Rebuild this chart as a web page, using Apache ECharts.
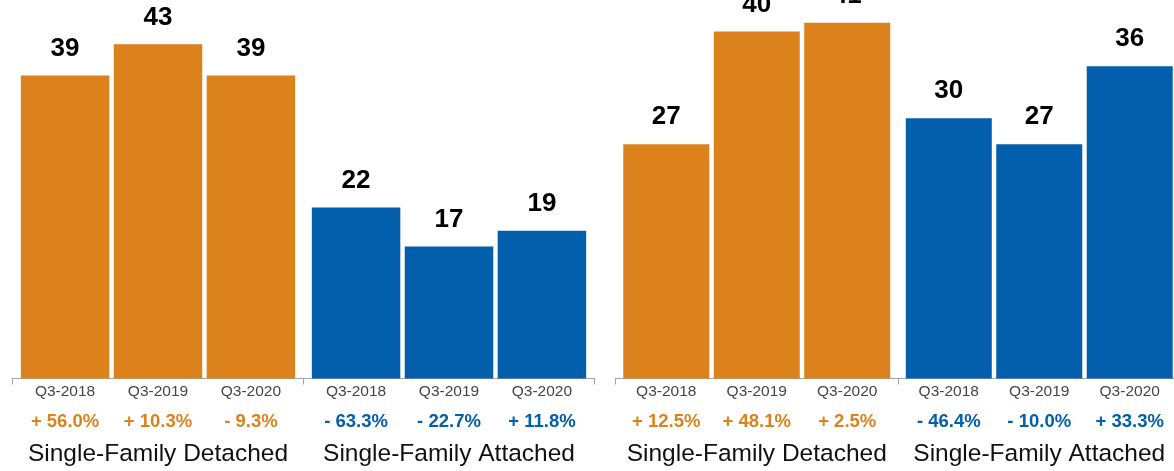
<!DOCTYPE html>
<html>
<head>
<meta charset="utf-8">
<script src="https://cdn.jsdelivr.net/npm/echarts@6/dist/echarts.min.js"></script>
<style>
  html, body { margin: 0; padding: 0; background: #ffffff; }
  #chart { width: 1174px; height: 471px; }
</style>
</head>
<body>
<div id="chart"></div>
<script>
// Categories and quarter labels
const groups = ['Single-Family Detached', 'Single-Family Attached'];
const quarters = ['Q3-2018', 'Q3-2019', 'Q3-2020'];

// First panel values and year-over-year change
const leftDetached = [39, 43, 39];
const leftAttached = [22, 17, 19];
const leftDetachedChange = ['+ 56.0%', '+ 10.3%', '- 9.3%'];
const leftAttachedChange = ['- 63.3%', '- 22.7%', '+ 11.8%'];

// Second panel values and year-over-year change
const rightDetached = [27, 40, 41];
const rightAttached = [30, 27, 36];
const rightDetachedChange = ['+ 12.5%', '+ 48.1%', '+ 2.5%'];
const rightAttachedChange = ['- 46.4%', '- 10.0%', '+ 33.3%'];

const ORANGE = '#db821c';
const BLUE = '#035eab';
const FONT = 'Liberation Sans, Arial, Helvetica, sans-serif';
const groupColors = [ORANGE, BLUE];

const panels = [
  { left: 12.5, width: 582, max: 48, barWidth: 88.5, barGap: '5%',
    detached: leftDetached, attached: leftAttached,
    detChange: leftDetachedChange, attChange: leftAttachedChange },
  { left: 615.5, width: 565, max: 43, barWidth: 86, barGap: '5.2%',
    detached: rightDetached, attached: rightAttached,
    detChange: rightDetachedChange, attChange: rightAttachedChange }
];

const grid = [], xAxis = [], yAxis = [], series = [];

panels.forEach((p, pi) => {
  grid.push({
    left: p.left, width: p.width, top: 5.5, height: 373,
    containLabel: false, outerBoundsMode: 'none'
  });
  // visible category axis with group names
  xAxis.push({
    type: 'category', gridIndex: pi, data: groups,
    axisLine: { show: true, lineStyle: { color: '#a3a3a3', width: 1 } },
    axisTick: { show: true, length: 6, lineStyle: { color: '#a3a3a3' } },
    axisLabel: {
      interval: 0, hideOverlap: false,
      color: '#111', fontSize: 24.5, fontFamily: FONT, margin: 63, lineHeight: 24.5
    }
  });
  // hidden twin axis carrying the quarter / change labels below the bars
  xAxis.push({
    type: 'category', gridIndex: pi, data: groups, show: false
  });
  yAxis.push({ type: 'value', gridIndex: pi, min: 0, max: p.max, show: false, splitLine: { show: false } });

  const visAxis = pi * 2, twinAxis = pi * 2 + 1;
  quarters.forEach((q, qi) => {
    const vals = [p.detached[qi], p.attached[qi]];
    const changes = [p.detChange[qi], p.attChange[qi]];
    series.push({
      type: 'bar', xAxisIndex: visAxis, yAxisIndex: pi,
      barWidth: p.barWidth, barGap: p.barGap,
      data: vals.map((v, gi) => ({ value: v, itemStyle: { color: groupColors[gi] } })),
      label: {
        show: true, position: 'top', distance: 14,
        color: '#000', fontSize: 26, fontWeight: 'bold', fontFamily: FONT
      },
      silent: true, animation: false
    });
    series.push({
      type: 'bar', xAxisIndex: twinAxis, yAxisIndex: pi,
      barWidth: p.barWidth, barGap: p.barGap,
      data: vals.map((v, gi) => ({
        value: v,
        itemStyle: { color: 'rgba(0,0,0,0)' },
        label: {
          formatter: '{q|' + q + '}\n{' + (gi === 0 ? 'po' : 'pb') + '|' + changes[gi] + '}'
        }
      })),
      label: {
        show: true, position: 'bottom', distance: 2,
        rich: {
          q: { color: '#454545', fontSize: 15.5, fontFamily: FONT, lineHeight: 22, align: 'center' },
          po: { color: ORANGE, fontSize: 18.5, fontWeight: 'bold', fontFamily: FONT, lineHeight: 38, align: 'center' },
          pb: { color: BLUE, fontSize: 18.5, fontWeight: 'bold', fontFamily: FONT, lineHeight: 38, align: 'center' }
        }
      },
      silent: true, animation: false
    });
  });
});

const chart = echarts.init(document.getElementById('chart'), null, { renderer: 'canvas' });
chart.setOption({
  animation: false,
  backgroundColor: '#ffffff',
  grid, xAxis, yAxis, series
});
</script>
</body>
</html>
